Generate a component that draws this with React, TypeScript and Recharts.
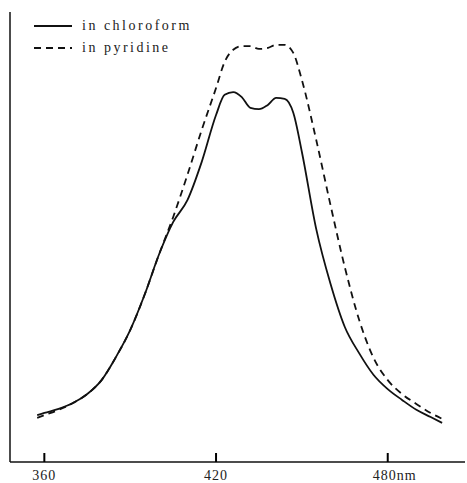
import { LineChart, Line, XAxis, YAxis } from 'recharts'

// wavelength (nm) sampled along the curves
const wavelengths = [
  357.5, 360, 365, 370, 375, 380, 385, 390, 395, 400, 405, 410, 415, 420, 423, 426, 429, 432,
  435, 438, 441, 444, 447, 450, 455, 460, 465, 470, 475, 480, 485, 490, 495, 499,
]

// relative absorbance
const chloroform = [
  10.4, 10.9, 11.8, 13.1, 15.1, 18.2, 23.3, 29.3, 37.1, 46.0, 53.3, 58.2, 66.7, 77.1, 81.6, 82.2,
  81.1, 78.7, 78.4, 79.3, 80.9, 80.7, 77.6, 68.9, 51.8, 39.6, 30.0, 24.2, 19.4, 16.2, 13.8, 11.6,
  10.0, 8.7,
]

const pyridine = [
  9.8, 10.4, 11.6, 13.1, 15.1, 18.2, 23.3, 29.3, 37.1, 46.0, 54.4, 63.8, 73.8, 83.1, 88.9, 91.6,
  92.4, 92.4, 91.8, 92.0, 92.7, 92.7, 90.9, 84.9, 71.6, 57.1, 43.3, 31.6, 23.2, 18.2, 15.1, 12.9,
  10.9, 9.6,
]

const tickValues = [360, 420, 480]
const tickLabels = ['360', '420', '480nm']

const series = [
  { key: 'chloroform', name: 'in chloroform', dash: undefined },
  { key: 'pyridine', name: 'in pyridine', dash: '7 5' },
]

const data = wavelengths.map((nm, i) => ({
  nm,
  chloroform: chloroform[i],
  pyridine: pyridine[i],
}))

const font = '"Liberation Serif", "DejaVu Serif", serif'

function AxisTick(props: any) {
  const { x, y, payload } = props
  const idx = tickValues.indexOf(payload.value)
  const label = tickLabels[idx] ?? String(payload.value)
  const last = idx === tickValues.length - 1
  return (
    <g>
      <path d={`M${x},${y - 9}L${x},${y}`} stroke="#000" strokeWidth={2} fill="none" />
      <text
        x={last ? x - 15 : x}
        y={y + 18}
        textAnchor={last ? 'start' : 'middle'}
        fontFamily={font}
        fontSize={14}
        letterSpacing={1}
        fill="#222"
      >
        {label}
      </text>
    </g>
  )
}

function LegendBox() {
  return (
    <div
      style={{
        position: 'absolute',
        left: 34,
        top: 15,
        fontFamily: font,
        fontSize: 14,
        letterSpacing: 2.5,
        color: '#222',
        lineHeight: '22px',
      }}
    >
      {series.map((s) => (
        <div key={s.key} style={{ display: 'flex', alignItems: 'center' }}>
          <svg width={40} height={10} style={{ marginRight: 8 }}>
            <line
              x1={0}
              x2={38}
              y1={5}
              y2={5}
              stroke="#111"
              strokeWidth={1.8}
              strokeDasharray={s.dash}
            />
          </svg>
          <span>{s.name}</span>
        </div>
      ))}
    </div>
  )
}

export default function App() {
  return (
    <div style={{ position: 'absolute', left: 0, top: 0, width: 467, height: 483, background: '#fff' }}>
      <LineChart
        width={467}
        height={483}
        data={data}
        margin={{ top: 12, right: 2, bottom: 0, left: 9 }}
      >
        <XAxis
          dataKey="nm"
          type="number"
          domain={[348, 507]}
          ticks={tickValues}
          tickLine={false}
          tickSize={0}
          tickMargin={0}
          height={21}
          axisLine={{ stroke: '#111', strokeWidth: 1.5 }}
          tick={<AxisTick />}
          interval={0}
        />
        <YAxis
          type="number"
          domain={[0, 100]}
          width={1}
          tick={false}
          tickLine={false}
          axisLine={{ stroke: '#111', strokeWidth: 1.5 }}
        />
        {series.map((s) => (
          <Line
            key={s.key}
            dataKey={s.key}
            name={s.name}
            type="monotone"
            stroke="#111"
            strokeWidth={1.8}
            strokeDasharray={s.dash}
            dot={false}
            isAnimationActive={false}
          />
        ))}
      </LineChart>
      <LegendBox />
    </div>
  )
}
